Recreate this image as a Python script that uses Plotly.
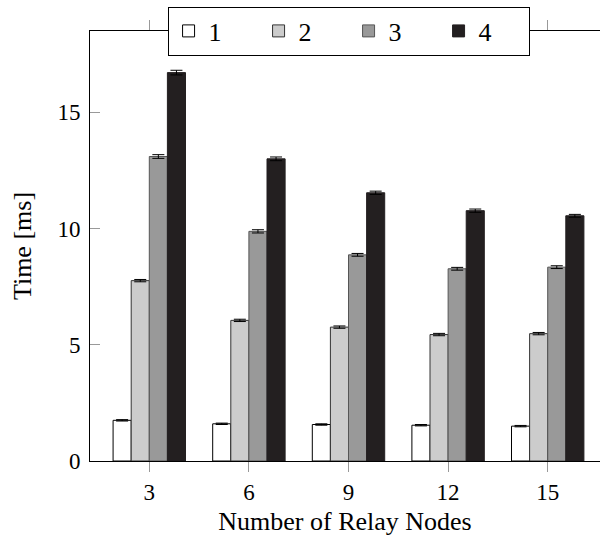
import plotly.graph_objects as go

relay_nodes = [3, 6, 9, 12, 15]
series_names = ["1", "2", "3", "4"]
s1 = [1.75, 1.60, 1.57, 1.54, 1.50]
s2 = [7.76, 6.05, 5.76, 5.44, 5.48]
s3 = [13.10, 9.88, 8.87, 8.27, 8.34]
s4 = [16.71, 13.00, 11.54, 10.77, 10.55]
e1 = [0.03, 0.03, 0.03, 0.03, 0.03]
e2 = [0.05, 0.05, 0.05, 0.05, 0.05]
e3 = [0.08, 0.07, 0.06, 0.06, 0.06]
e4 = [0.10, 0.08, 0.07, 0.07, 0.06]
yticks = [0, 5, 10, 15]

values = [s1, s2, s3, s4]
errors = [e1, e2, e3, e4]
fills = ["#ffffff", "#cccccc", "#999999", "#231f20"]
edges = ["#000000", "#333333", "#555555", "#231f20"]

FONT = "Liberation Serif, Times New Roman, serif"
fig = go.Figure()
for name, v, e, fc, ec in zip(series_names, values, errors, fills, edges):
    fig.add_trace(go.Bar(
        x=relay_nodes, y=v, name=name,
        marker=dict(color=fc, line=dict(color=ec, width=1)),
        error_y=dict(type="data", array=e, visible=True, color="#000000",
                     thickness=1, width=6),
    ))

yr = [0, 18.5]
fig.update_layout(
    width=600, height=541,
    margin=dict(l=90, r=0, t=31, b=80, autoexpand=False),
    paper_bgcolor="white", plot_bgcolor="white",
    barmode="group", bargap=0.273, bargroupgap=0,
    font=dict(family=FONT, color="#000000", size=23),
    legend=dict(orientation="h", x=0.507, xanchor="center", y=1.0, yanchor="middle",
                bgcolor="white", bordercolor="#000000", borderwidth=1,
                font=dict(size=26, family=FONT, color="#000000"),
                entrywidth=45, entrywidthmode="pixels",
                traceorder="normal"),
    xaxis=dict(range=[1.214, 16.575], tickvals=relay_nodes,
               ticktext=[str(n) for n in relay_nodes],
               ticks="outside", ticklen=10, tickcolor="#999999", tickwidth=1,
               showline=True, linecolor="#000000", linewidth=1, mirror="ticks",
               showgrid=False, zeroline=False,
               tickfont=dict(size=23, family=FONT),
               title=dict(text="Number of Relay Nodes", font=dict(size=26, family=FONT), standoff=8)),
    yaxis=dict(range=yr, tickvals=yticks, ticktext=[str(t) for t in yticks],
               ticks="inside", ticklen=10, tickcolor="#999999", tickwidth=1,
               ticklabelstandoff=4,
               showline=True, linecolor="#000000", linewidth=1,
               showgrid=False, zeroline=False,
               tickfont=dict(size=23, family=FONT),
               title=dict(text="Time [ms]", font=dict(size=26, family=FONT), standoff=18)),
    yaxis2=dict(range=yr, overlaying="y", side="right", tickvals=yticks,
                ticks="inside", ticklen=3, tickcolor="#999999", tickwidth=1,
                showline=False, showgrid=False, zeroline=False, showticklabels=False),
)

fig.write_html("out.html")
